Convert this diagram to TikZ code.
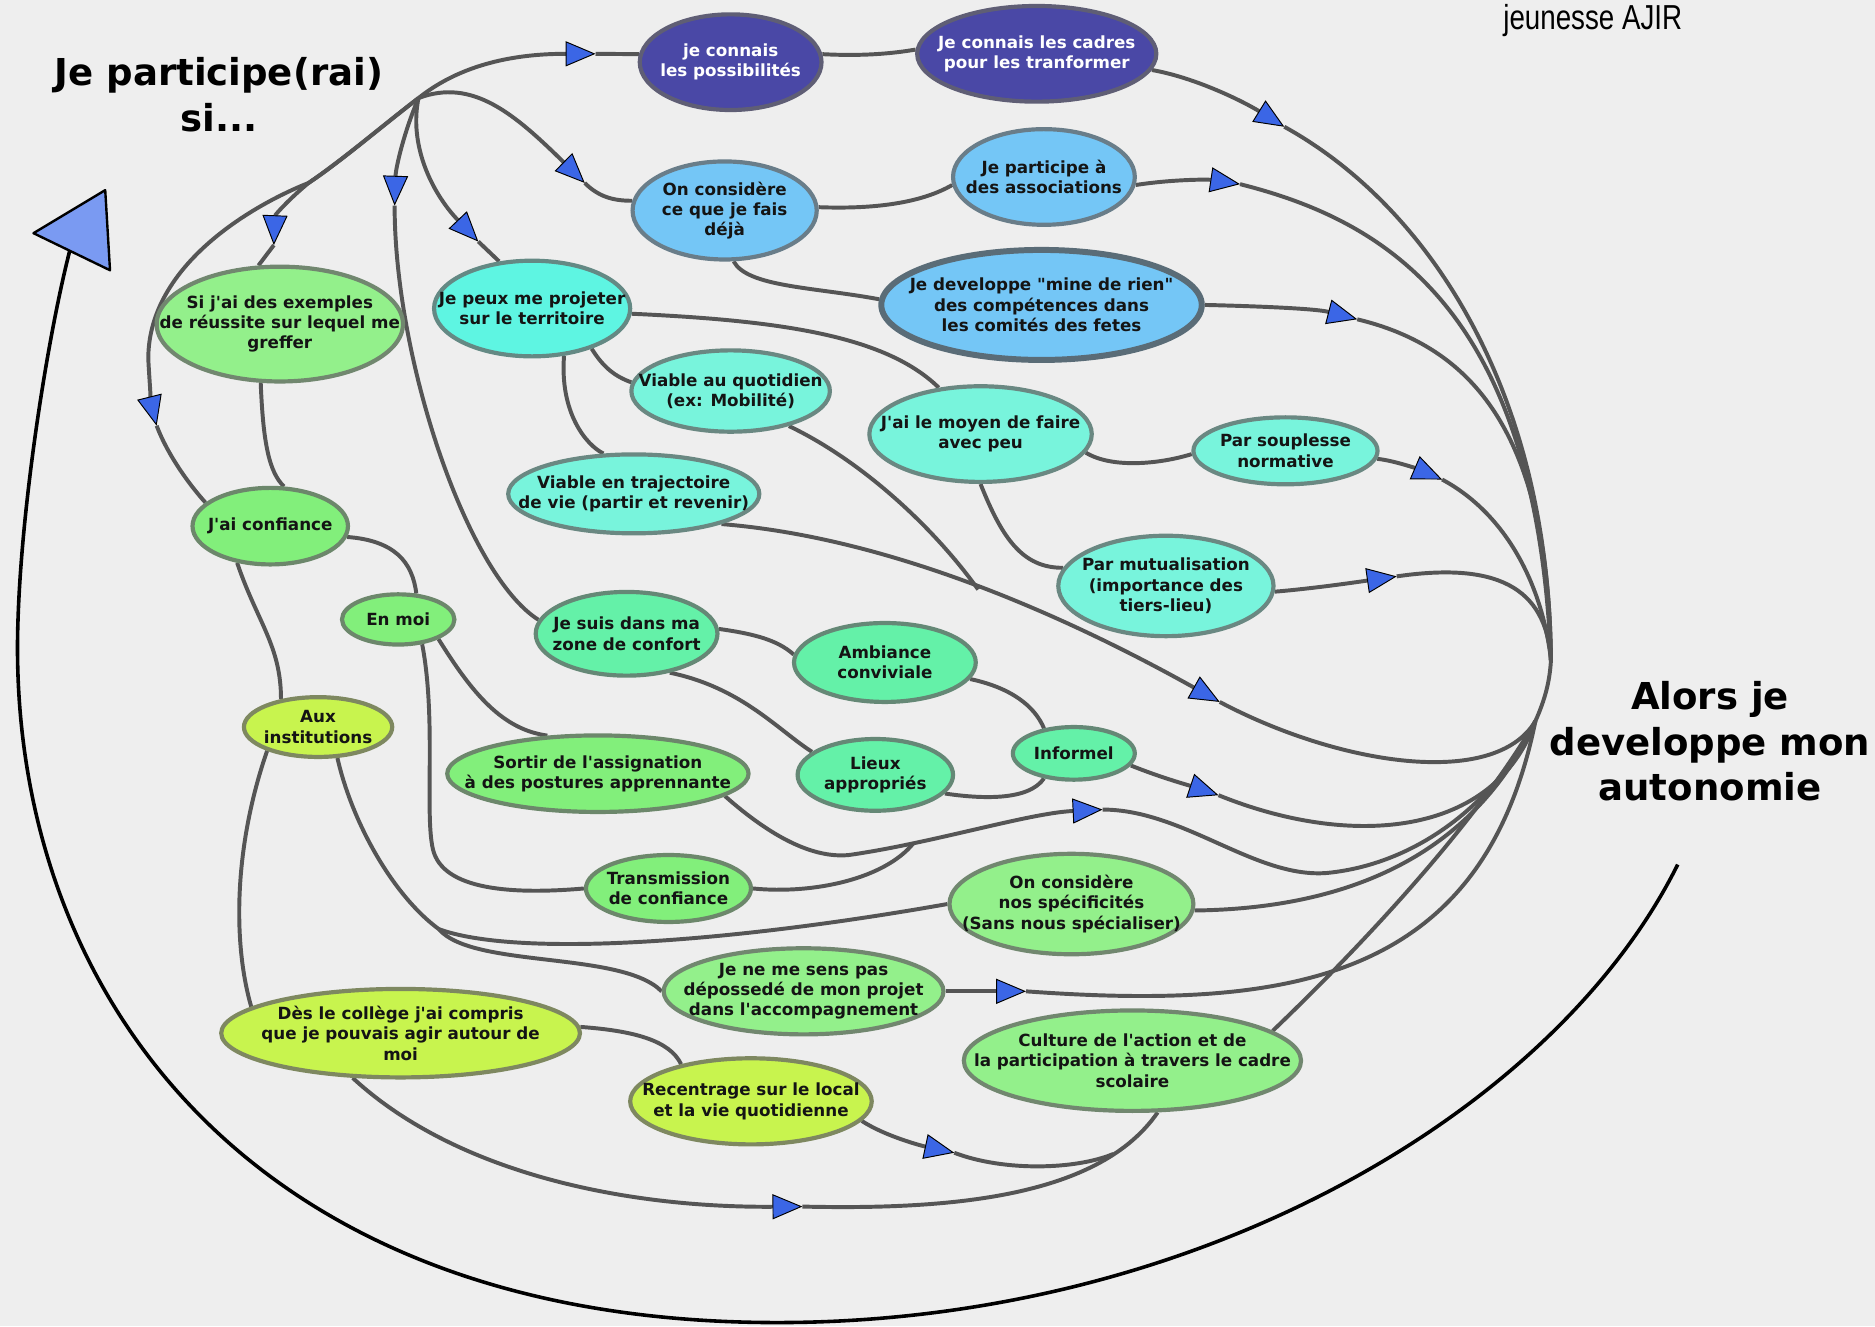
\documentclass[tikz,border=0pt]{standalone}
\usepackage{fontspec}
\usetikzlibrary{shapes.geometric,arrows.meta}
\newfontfamily\nodefont{DejaVu Sans}
\newfontfamily\brandfont{Liberation Sans}[FakeStretch=0.8]
\definecolor{bgc}{HTML}{EEEEEE}
\definecolor{dkblue}{HTML}{4A48A6}
\definecolor{ltblue}{HTML}{74C6F6}
\definecolor{cyanc}{HTML}{5EF5E2}
\definecolor{aqua}{HTML}{78F4DC}
\definecolor{mint}{HTML}{64F1A8}
\definecolor{greenc}{HTML}{82EF7B}
\definecolor{ltgreen}{HTML}{93F08B}
\definecolor{yellowc}{HTML}{C8F44E}
\definecolor{lgray}{HTML}{555555}
\definecolor{ablue}{HTML}{3B66E6}
\definecolor{bigblue}{HTML}{7A9AF2}
\pgfdeclarelayer{bglayer}
\pgfsetlayers{bglayer,main}
\begin{document}
\begin{tikzpicture}[x=1pt,y=-1pt,
  ell/.style={ellipse, fill=#1, draw=#1!35!black!70, line width=3.5pt, inner sep=-60pt,
    align=center, font=\nodefont\bfseries\fontsize{14}{17}\selectfont, text=black!92},
  bigtitle/.style={align=center, font=\nodefont\bfseries\fontsize{31}{38}\selectfont, text=black},
  conn/.style={draw=lgray, line width=3.3pt},
  arr/.style={conn, -{Triangle[length=25pt,width=21pt,color=black,fill=ablue,line width=0.8pt]}}]
\useasboundingbox (0,0) rectangle (1568,1109);

% titles
\node[bigtitle] (title1) at (183,79) {Je participe(rai)\\si...};
\node[bigtitle] (title2) at (1430,620) {Alors je\\developpe mon\\autonomie};
\node[font=\brandfont\fontsize{29}{32}\selectfont, text=black] (brand) at (1332,17) {jeunesse AJIR};

% nodes
\node[ell=dkblue, minimum width=152pt, minimum height=80pt, text=white] (n1) at (611,52) {je connais\\les possibilités};
\node[ell=dkblue, minimum width=200pt, minimum height=80pt, text=white] (n2) at (867,45) {Je connais les cadres\\pour les tranformer};
\node[ell=ltblue, minimum width=154pt, minimum height=82pt] (n3) at (606,176) {On considère\\ce que je fais\\déjà};
\node[ell=ltblue, minimum width=152pt, minimum height=80pt] (n4) at (873,148) {Je participe à\\des associations};
\node[ell=ltblue, minimum width=268pt, minimum height=92pt, line width=5pt, draw=ltblue!30!black!75] (n5) at (871,255) {Je developpe "mine de rien"\\des compétences dans\\les comités des fetes};
\node[ell=cyanc, minimum width=164pt, minimum height=80pt] (n6) at (445,258) {Je peux me projeter\\sur le territoire};
\node[ell=ltgreen, minimum width=206pt, minimum height=96pt] (n7) at (234,271) {Si j'ai des exemples\\de réussite sur lequel me\\greffer};
\node[ell=aqua, minimum width=166pt, minimum height=68pt] (n8) at (611,327) {Viable au quotidien\\(ex: Mobilité)};
\node[ell=aqua, minimum width=186pt, minimum height=80pt] (n9) at (820,363) {J'ai le moyen de faire\\avec peu};
\node[ell=aqua, minimum width=154pt, minimum height=56pt] (n10) at (1075,377) {Par souplesse\\normative};
\node[ell=aqua, minimum width=210pt, minimum height=66pt] (n11) at (530,413) {Viable en trajectoire\\de vie (partir et revenir)};
\node[ell=aqua, minimum width=180pt, minimum height=84pt] (n12) at (975,490) {Par mutualisation\\(importance des\\tiers-lieu)};
\node[ell=greenc, minimum width=130pt, minimum height=64pt] (n13) at (226,440) {J'ai confiance};
\node[ell=greenc, minimum width=94pt, minimum height=42pt] (n14) at (333,518) {En moi};
\node[ell=mint, minimum width=152pt, minimum height=70pt] (n15) at (524,530) {Je suis dans ma\\zone de confort};
\node[ell=mint, minimum width=152pt, minimum height=66pt] (n16) at (740,554) {Ambiance\\conviviale};
\node[ell=yellowc, minimum width=124pt, minimum height=50pt] (n17) at (266,608) {Aux\\institutions};
\node[ell=greenc, minimum width=252pt, minimum height=64pt] (n18) at (500,647) {Sortir de l'assignation\\à des postures apprennante};
\node[ell=mint, minimum width=130pt, minimum height=60pt] (n19) at (732,648) {Lieux\\appropriés};
\node[ell=mint, minimum width=102pt, minimum height=44pt] (n20) at (898,630) {Informel};
\node[ell=greenc, minimum width=138pt, minimum height=56pt] (n21) at (559,743) {Transmission\\de confiance};
\node[ell=ltgreen, minimum width=204pt, minimum height=84pt] (n22) at (896,756) {On considère\\nos spécificités\\(Sans nous spécialiser)};
\node[ell=ltgreen, minimum width=234pt, minimum height=72pt] (n23) at (672,829) {Je ne me sens pas\\dépossedé de mon projet\\dans l'accompagnement};
\node[ell=yellowc, minimum width=300pt, minimum height=74pt] (n24) at (335,864) {Dès le collège j'ai compris\\que je pouvais agir autour de\\moi};
\node[ell=ltgreen, minimum width=282pt, minimum height=84pt] (n25) at (947,887) {Culture de l'action et de\\la participation à travers le cadre\\scolaire};
\node[ell=yellowc, minimum width=202pt, minimum height=72pt] (n26) at (628,921) {Recentrage sur le local\\et la vie quotidienne};

% junctions and arrow points
\coordinate (H) at (350,82);
\coordinate (M1) at (258,153);
\coordinate (J1) at (818,493);
\coordinate (J2) at (764,705);
\coordinate (J3) at (931,965);
\coordinate (J4) at (367,777);
\coordinate (S1) at (1297,552);
\coordinate (S2) at (1284,603);
\coordinate (ta) at (498,45);
\coordinate (tb) at (489,153);
\coordinate (tc) at (400,202);
\coordinate (td) at (330,172);
\coordinate (te) at (229,205);
\coordinate (tf) at (131,356);
\coordinate (tg) at (1074,106);
\coordinate (th) at (1037,154);
\coordinate (ti) at (1135,267);
\coordinate (tj) at (1206,401);
\coordinate (tk) at (1168,482);
\coordinate (tl) at (1020,587);
\coordinate (tee) at (1019,665);
\coordinate (tff) at (922,677);
\coordinate (tkk) at (858,829);
\coordinate (tmm) at (671,1009);
\coordinate (tnn) at (798,964);

\begin{pgfonlayer}{bglayer}
\fill[bgc] (0,0) rectangle (1568,1109);

% big outer arc
\draw[black, line width=3pt] (1403,723) .. controls (1300,930) and (1000,1106) .. (650,1106)
  .. controls (200,1106) and (5,820) .. (15,520) .. controls (18,420) and (40,280) .. (59,207);
\filldraw[fill=bigblue, draw=black, line width=2pt, line join=round] (28,195) -- (88,159) -- (92,226) -- cycle;

% from the hub
\draw[arr] (H) .. controls (390,50) and (440,45) .. (ta);
\draw[conn] (ta) -- (n1.175);
\draw[arr] (H) .. controls (395,65) and (430,95) .. (tb);
\draw[conn] (tb) .. controls (500,164) and (512,168) .. (n3.174);
\draw[arr] (H) .. controls (342,120) and (360,160) .. (tc);
\draw[conn] (tc) -- (n6.125);
\draw[arr] (H) .. controls (338,110) and (331,140) .. (td);
\draw[conn] (td) .. controls (330,300) and (390,480) .. (n15.171);
\draw[arr] (H) .. controls (320,105) and (285,135) .. (M1) .. controls (240,168) and (230,180) .. (te);
\draw[conn] (te) -- (n7.110);
\draw[arr] (H) .. controls (320,105) and (285,135) .. (M1) .. controls (215,170) and (124,220) .. (124,300) .. controls (125,320) and (127,340) .. (tf);
\draw[conn] (tf) .. controls (140,380) and (158,405) .. (n13.160);

% top group
\draw[conn] (n1.5) .. controls (720,47) and (745,45) .. (n2.178);
\draw[conn] (n3.2) .. controls (730,175) and (770,170) .. (n4.185);
\draw[conn] (n3.-80) .. controls (625,240) and (680,240) .. (n5.178);
\draw[arr] (n2.-8) .. controls (1000,65) and (1040,85) .. (tg);
\draw[conn] (tg) .. controls (1190,170) and (1295,320) .. (S1);
\draw[arr] (n4.-5) .. controls (980,150) and (1010,150) .. (th);
\draw[conn] (th) .. controls (1160,185) and (1285,260) .. (S1);
\draw[arr] (n5.east) .. controls (1050,256) and (1100,258) .. (ti);
\draw[conn] (ti) .. controls (1230,290) and (1295,360) .. (S1);
\draw[arr] (n10.-5) .. controls (1165,385) and (1185,392) .. (tj);
\draw[conn] (tj) .. controls (1260,430) and (1290,490) .. (S1);
\draw[arr] (n12.-3) .. controls (1100,492) and (1140,486) .. (tk);
\draw[conn] (tk) .. controls (1250,470) and (1293,490) .. (S1);
\draw[conn] (S2) .. controls (1292,585) and (1296,570) .. (S1);

% middle (cyan) group
\draw[conn] (n6.-3) .. controls (650,268) and (740,280) .. (n9.132);
\draw[conn] (n6.-34) .. controls (505,308) and (515,315) .. (n8.175);
\draw[conn] (n6.-56) .. controls (468,345) and (490,372) .. (n11.127);
\draw[conn] (n9.-10) .. controls (930,392) and (970,388) .. (n10.182);
\draw[conn] (n9.south) .. controls (838,450) and (855,475) .. (n12.170);
\draw[arr] (n11.-19) .. controls (750,450) and (900,520) .. (tl);
\draw[conn] (tl) .. controls (1120,640) and (1250,660) .. (S2);
\draw[conn] (n8.-31) .. controls (720,385) and (780,440) .. (J1);

% green group
\draw[conn] (n7.-108) .. controls (220,370) and (225,395) .. (n13.71);
\draw[conn] (n13.-8) .. controls (330,452) and (345,470) .. (n14.55);
\draw[conn] (n13.-132) .. controls (215,520) and (235,540) .. (n17.143);
\draw[conn] (n14.-26) .. controls (395,580) and (420,610) .. (n18.143);
\draw[conn] (n14.-46) .. controls (365,600) and (355,680) .. (362,710) .. controls (370,745) and (430,748) .. (n21.west);
\draw[conn] (n15.3) .. controls (630,530) and (650,535) .. (n16.175);
\draw[conn] (n15.-42) .. controls (620,575) and (650,610) .. (n19.160);
\draw[conn] (n16.-11) .. controls (845,575) and (865,590) .. (n20.140);
\draw[conn] (n19.-15) .. controls (820,668) and (860,670) .. (n20.-140);
\draw[arr] (n20.-12) .. controls (970,650) and (995,657) .. (tee);
\draw[conn] (tee) .. controls (1130,710) and (1250,700) .. (S2);
\draw[arr] (n18.-10) .. controls (645,700) and (680,718) .. (710,715) .. controls (780,705) and (860,680) .. (tff);
\draw[conn] (tff) .. controls (990,677) and (1050,735) .. (1110,730) .. controls (1190,722) and (1255,665) .. (S2);
\draw[conn] (n21.east) .. controls (680,748) and (740,735) .. (J2);
\draw[conn] (n22.-3) .. controls (1120,760) and (1230,720) .. (S2);
\draw[conn] (n17.-58) .. controls (295,690) and (330,750) .. (J4);
\draw[conn] (J4) .. controls (430,800) and (600,790) .. (n22.west);
\draw[conn] (J4) .. controls (395,810) and (520,795) .. (n23.west);
\draw[arr] (n23.east) -- (tkk);
\draw[conn] (tkk) .. controls (1080,845) and (1240,820) .. (S2);
\draw[conn] (n25.12) .. controls (1150,780) and (1240,680) .. (S2);

% yellow group
\draw[conn] (n17.-155) .. controls (195,710) and (195,790) .. (n24.170);
\draw[conn] (n24.2) .. controls (530,862) and (560,870) .. (n26.152);
\draw[arr] (n24.-137) .. controls (380,980) and (520,1010) .. (tmm);
\draw[conn] (tmm) .. controls (800,1012) and (920,1000) .. (n25.-64);
\draw[arr] (n26.-10) .. controls (740,950) and (770,958) .. (tnn);
\draw[conn] (tnn) .. controls (840,980) and (900,978) .. (J3);
\end{pgfonlayer}
\end{tikzpicture}
\end{document}
